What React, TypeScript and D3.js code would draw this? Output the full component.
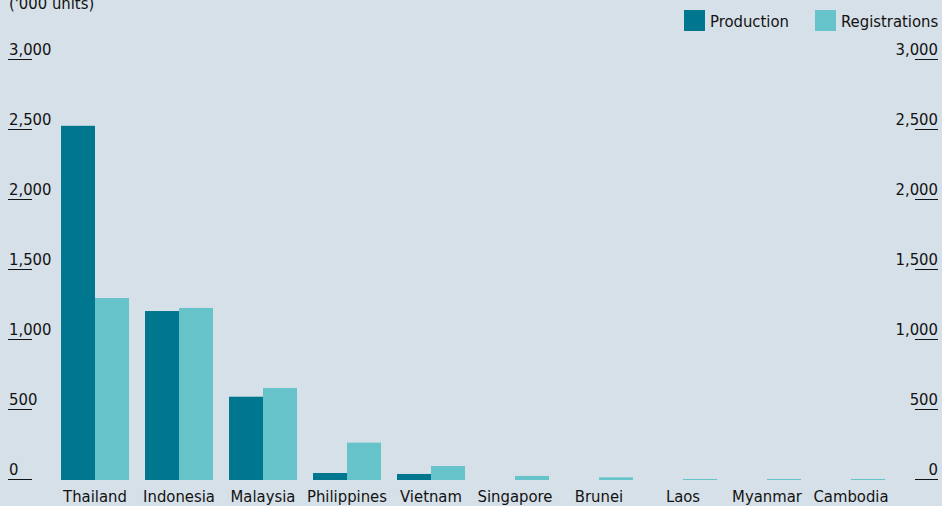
import React from 'react';
import * as d3 from 'd3';

const countries = ['Thailand', 'Indonesia', 'Malaysia', 'Philippines', 'Vietnam', 'Singapore', 'Brunei', 'Laos', 'Myanmar', 'Cambodia'];
const production = [2530, 1207, 595, 50, 43, 0, 0, 0, 0, 0];
const registrations = [1300, 1229, 657, 267, 100, 29, 19, 7, 7, 5];
const yTicks = [0, 500, 1000, 1500, 2000, 2500, 3000];
const seriesNames = ['Production', 'Registrations'];
const unitLabel = "('000 units)";

const W = 942;
const H = 506;
const BG = '#d6e0e8';
const C_PROD = '#00778f';
const C_REG = '#66c3ca';
const TEXT = '#121212';
const FONT = "'DejaVu Sans Condensed', 'DejaVu Sans', sans-serif";
const FS = 16.5;

export default function App() {
  const x = d3.scaleBand<string>().domain(countries).range([53, 893]).paddingInner(16 / 84).paddingOuter(8 / 84);
  const sub = d3.scaleBand<string>().domain(seriesNames).range([0, x.bandwidth()]);
  const y = d3.scaleLinear().domain([0, 3000]).range([480, 60]);
  const fmt = d3.format(',');
  const series = [production, registrations];
  const colors = [C_PROD, C_REG];

  return (
    <svg width={W} height={H} style={{ position: 'absolute', left: 0, top: 0, background: BG, fontFamily: FONT, fontStretch: 'condensed' }}>
      <rect x={0} y={0} width={W} height={H} fill={BG} />
      <text x={9} y={9} fontSize={FS} fill={TEXT}>{unitLabel}</text>
      {yTicks.map((t) => (
        <g key={t}>
          <line x1={8} x2={32} y1={y(t) - 0.5} y2={y(t) - 0.5} stroke={TEXT} strokeWidth={1} />
          <text x={9} y={y(t) - 5} fontSize={FS} fill={TEXT}>{fmt(t)}</text>
          <line x1={915} x2={938} y1={y(t) - 0.5} y2={y(t) - 0.5} stroke={TEXT} strokeWidth={1} />
          <text x={938} y={y(t) - 5} fontSize={FS} fill={TEXT} textAnchor="end">{fmt(t)}</text>
        </g>
      ))}
      {series.map((vals, si) =>
        countries.map((c, i) => {
          const v = vals[i];
          if (v <= 0) return null;
          const top = y(v);
          const h = Math.max(1, y(0) - top);
          return (
            <rect key={c + si} x={(x(c) as number) + (sub(seriesNames[si]) as number)} y={y(0) - h} width={sub.bandwidth()} height={h} fill={colors[si]} />
          );
        })
      )}
      {countries.map((c) => (
        <text key={c} x={(x(c) as number) + x.bandwidth() / 2} y={502} fontSize={FS} fill={TEXT} textAnchor="middle">{c}</text>
      ))}
      <g>
        <rect x={684} y={10} width={21} height={21} fill={C_PROD} />
        <text x={710} y={27} fontSize={FS} fill={TEXT}>{seriesNames[0]}</text>
        <rect x={815} y={10} width={21} height={21} fill={C_REG} />
        <text x={841} y={27} fontSize={FS} fill={TEXT}>{seriesNames[1]}</text>
      </g>
    </svg>
  );
}
